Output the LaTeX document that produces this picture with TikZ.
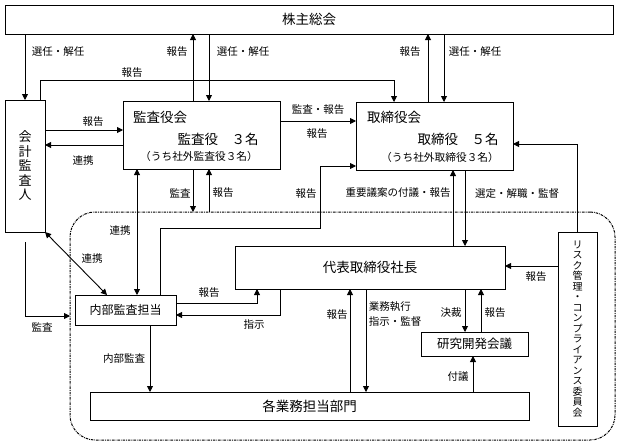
\documentclass[tikz,border=0pt]{standalone}
\usepackage{fontspec}
\setmainfont{Noto Sans CJK JP}
\usetikzlibrary{arrows.meta,calc}
\begin{document}
\begin{tikzpicture}[x=1pt,y=-1pt,
  box/.style={draw,line width=0.8pt,inner sep=0pt,outer sep=0pt},
  arr/.style={line width=0.9pt,-{Triangle[length=6pt,width=6pt]}},
  darr/.style={line width=0.9pt,{Triangle[length=6pt,width=6pt]}-{Triangle[length=6pt,width=6pt]}},
  region/.style={draw,line width=1pt,rounded corners=25pt,inner sep=0pt,outer sep=0pt,
    dash pattern=on 2.5pt off 1pt on 0.8pt off 1pt},
  lbl/.style={inner sep=0pt,font=\fontsize{10.5}{12}\selectfont},
  ttl/.style={inner sep=0pt,font=\fontsize{13.5}{15}\selectfont},
  subt/.style={inner sep=0pt,font=\fontsize{10.7}{12}\selectfont}]
\useasboundingbox (0,0) rectangle (623,447);
% region
\node[region,minimum width=545,minimum height=228] (grp) at (342.5,326) {};
% boxes
\node[box,ttl,minimum width=608,minimum height=29] (kabu) at (309,19.5) {株主総会};
\node[box,align=center,font=\fontsize{13}{14.5}\selectfont,minimum width=40,minimum height=132] (kaikei) at (25,166) {会\\計\\監\\査\\人};
\node[box,minimum width=157,minimum height=68] (kansa) at (201.5,135) {};
\node[ttl,anchor=west] (kansaA) at (133,117) {監査役会};
\node[ttl] (kansaB) at (218,139) {監査役　３名};
\node[subt] (kansaC) at (199,156) {（うち社外監査役３名）};
\node[box,minimum width=157,minimum height=68] (tori) at (434.5,136) {};
\node[ttl,anchor=west] (toriA) at (367,117) {取締役会};
\node[ttl] (toriB) at (458,139) {取締役　５名};
\node[subt] (toriC) at (440,157) {（うち社外取締役３名）};
\node[box,ttl,minimum width=270,minimum height=43] (daihyo) at (370,267.5) {代表取締役社長};
\node[box,font=\fontsize{12}{14}\selectfont,minimum width=101,minimum height=30] (naibu) at (125.5,310) {内部監査担当};
\node[box,font=\fontsize{12.5}{14}\selectfont,minimum width=107,minimum height=24] (kenkyu) at (474.5,344) {研究開発会議};
\node[box,ttl,minimum width=439,minimum height=28] (kakugyo) at (309.5,406) {各業務担当部門};
\node[box,align=center,font=\fontsize{10}{10.5}\selectfont,minimum width=39,minimum height=194] (risk) at (577.5,329) {リ\\ス\\ク\\管\\理\\・\\コ\\ン\\プ\\ラ\\イ\\ア\\ン\\ス\\委\\員\\会};
% connectors
\draw[arr] (kabu.south -| kaikei.north) -- (kaikei.north);
\draw[arr] ([xshift=-8.5pt]kansa.north) -- ([xshift=-8.5pt]kansa.north |- kabu.south);
\draw[arr] ([xshift=7.5pt]kansa.north |- kabu.south) -- ([xshift=7.5pt]kansa.north);
\draw[arr] ([xshift=-5pt]kaikei.north east) -- ++(0,-20) -| ([xshift=-40.5pt]tori.north);
\draw[arr] ([xshift=-6.5pt]tori.north) -- ([xshift=-6.5pt]tori.north |- kabu.south);
\draw[arr] ([xshift=9.5pt]tori.north |- kabu.south) -- ([xshift=9.5pt]tori.north);
\draw[arr] ([yshift=36pt]kaikei.east) -- ([yshift=36pt]kaikei.east -| kansa.west);
\draw[arr] ([yshift=21pt]kaikei.east -| kansa.west) -- ([yshift=21pt]kaikei.east);
\draw[arr] ([yshift=14pt]kansa.east) -- ([yshift=14pt]kansa.east -| tori.west);
\draw[darr] ([xshift=-64.5pt]kansa.south) -- ([xshift=-64.5pt]kansa.south |- naibu.north);
\draw[arr] ([xshift=-8.5pt]kansa.south) -- ([xshift=-8.5pt]kansa.south |- grp.north);
\draw[arr] ([xshift=7.5pt]kansa.south |- grp.north) -- ([xshift=7.5pt]kansa.south);
\coordinate (bend) at (320,228);
\draw[arr] ([xshift=34.5pt]naibu.north) |- (bend) |- ([yshift=4pt]tori.south west);
\draw[arr] ([xshift=18.5pt]tori.south |- daihyo.north) -- ([xshift=18.5pt]tori.south);
\draw[arr] ([xshift=30.5pt]tori.south) -- ([xshift=30.5pt]tori.south |- daihyo.north);
\draw[arr] (risk.north) |- ([yshift=-8pt]tori.east);
\draw[arr] ([yshift=63pt]risk.west) -- ([yshift=63pt]risk.west -| daihyo.east);
\draw[arr] ([yshift=7pt]naibu.east) -| ([xshift=-113pt]daihyo.south);
\draw[arr] ([xshift=-90pt]daihyo.south) |- ([yshift=-5pt]naibu.east);
\draw[darr] (kaikei.south east) -- ([xshift=-18.5pt]naibu.north);
\draw[arr] ([yshift=-10pt]kaikei.south) |- ([yshift=10pt]grp.west);
\draw[arr] ([xshift=24.5pt]naibu.south) -- ([xshift=24.5pt]naibu.south |- kakugyo.north);
\draw[arr] ([xshift=-20pt]daihyo.south |- kakugyo.north) -- ([xshift=-20pt]daihyo.south);
\draw[arr] ([xshift=-4pt]daihyo.south) -- ([xshift=-4pt]daihyo.south |- kakugyo.north);
\draw[arr] ([xshift=-9.5pt]kenkyu.north |- daihyo.south) -- ([xshift=-9.5pt]kenkyu.north);
\draw[arr] ([xshift=6.5pt]kenkyu.north) -- ([xshift=6.5pt]kenkyu.north |- daihyo.south);
\draw[arr] ([xshift=-1.5pt]kenkyu.south |- kakugyo.north) -- ([xshift=-1.5pt]kenkyu.south);
% labels
\node[lbl] (l1) at (58,52) {選任・解任};
\node[lbl] (l2) at (177,52) {報告};
\node[lbl] (l3) at (243,52) {選任・解任};
\node[lbl] (l4) at (132,73) {報告};
\node[lbl] (l5) at (410,52) {報告};
\node[lbl] (l6) at (475,52) {選任・解任};
\node[lbl] (l7) at (93,122) {報告};
\node[lbl] (l8) at (83,161) {連携};
\node[lbl] (l9) at (318,110) {監査・報告};
\node[lbl] (l9b) at (317,134) {報告};
\node[lbl] (l10) at (120,231) {連携};
\node[lbl] (l11) at (180,193) {監査};
\node[lbl] (l12) at (223,193) {報告};
\node[lbl] (l13) at (306,194) {報告};
\node[lbl] (l14) at (398,193) {重要議案の付議・報告};
\node[lbl] (l15) at (517,194) {選定・解職・監督};
\node[lbl] (l17) at (536,277) {報告};
\node[lbl] (l18) at (209,293) {報告};
\node[lbl] (l19) at (254,325) {指示};
\node[lbl] (l20) at (92,259) {連携};
\node[lbl] (l21) at (42,327) {監査};
\node[lbl] (l22) at (124,359) {内部監査};
\node[lbl] (l23) at (337,315) {報告};
\node[lbl,align=left,font=\fontsize{10.5}{15}\selectfont] (l24) at (395,314) {業務執行\\指示・監督};
\node[lbl] (l25) at (451,313) {決裁};
\node[lbl] (l26) at (495,313) {報告};
\node[lbl] (l27) at (458,377) {付議};
\end{tikzpicture}
\end{document}
